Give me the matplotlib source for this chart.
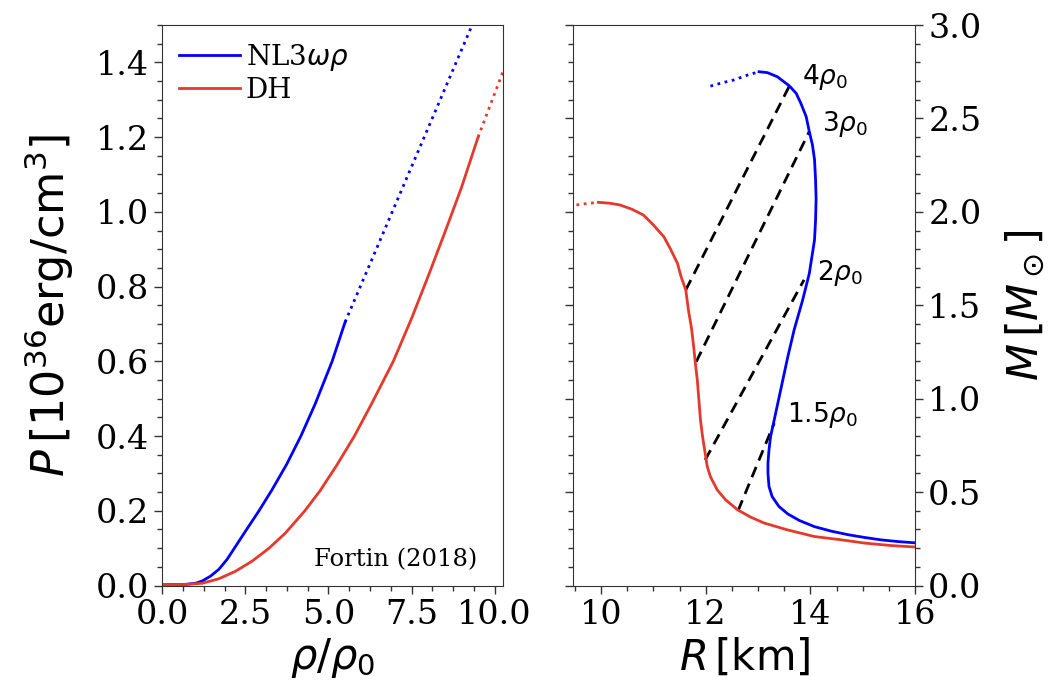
import matplotlib
matplotlib.use('Agg')
import matplotlib.pyplot as plt
from matplotlib.ticker import MultipleLocator

plt.rcParams['font.family'] = 'DejaVu Serif'
plt.rcParams['mathtext.fontset'] = 'dejavusans'

# ---- left panel: P(rho) ----
rho_nl3 = [0.0, 0.7, 1.0, 1.2, 1.45, 1.7, 1.95, 2.2, 2.5, 2.91, 3.3, 3.74, 4.17, 4.6, 5.11, 5.5]
p_nl3 = [0.002, 0.003, 0.006, 0.012, 0.025, 0.043, 0.07, 0.104, 0.145, 0.2, 0.256, 0.324, 0.4, 0.486, 0.6, 0.705]
rho_nl3_dot = [5.5, 6.0, 6.5, 7.0, 7.5, 8.0, 8.5, 9.0, 9.5]
p_nl3_dot = [0.705, 0.809, 0.913, 1.017, 1.121, 1.225, 1.329, 1.433, 1.537]

rho_dh = [0.0, 0.7, 1.2, 1.7, 2.2, 2.7, 3.2, 3.7, 4.29, 4.75, 5.25, 5.78, 6.3, 6.95,
          7.5, 8.0, 8.5, 9.0, 9.5]
p_dh = [0.002, 0.003, 0.006, 0.018, 0.038, 0.065, 0.099, 0.14, 0.2, 0.254, 0.322, 0.4, 0.487, 0.6,
        0.715, 0.828, 0.945, 1.065, 1.2]
rho_dh_dot = [9.5, 10.3]
p_dh_dot = [1.2, 1.387]

# ---- right panel: M(R) ----
r_nl3_dot = [12.09, 12.32, 12.54, 12.80, 13.02]
m_nl3_dot = [2.673, 2.691, 2.706, 2.732, 2.75]
r_nl3 = [13.02, 13.18, 13.37, 13.60, 13.73, 13.82, 13.92, 13.98, 14.04, 14.08, 14.10, 14.11, 14.10,
         14.08, 14.03, 13.98, 13.85, 13.69, 13.57, 13.44, 13.31, 13.24, 13.21, 13.19, 13.19, 13.21,
         13.27, 13.40, 13.57, 13.79, 14.08, 14.40, 14.72, 15.04, 15.36, 15.68, 16.07]
m_nl3 = [2.75, 2.745, 2.723, 2.674, 2.634, 2.58, 2.51, 2.43, 2.358, 2.28, 2.17, 2.07, 1.957,
         1.85, 1.76, 1.67, 1.525, 1.368, 1.225, 1.056, 0.887, 0.797, 0.726, 0.655, 0.60, 0.53,
         0.476, 0.423, 0.383, 0.348, 0.315, 0.291, 0.272, 0.257, 0.244, 0.235, 0.227]

r_dh_dot = [9.53, 9.75, 9.95]
m_dh_dot = [2.037, 2.045, 2.051]
r_dh = [9.95, 10.17, 10.36, 10.59, 10.81, 11.0, 11.20, 11.32, 11.46, 11.53, 11.62, 11.67, 11.73,
        11.77, 11.80, 11.84, 11.87, 11.90, 11.94, 11.97, 12.03, 12.09, 12.22, 12.38, 12.61, 12.86,
        13.12, 13.56, 14.08, 14.58, 15.04, 15.54, 16.07]
m_dh = [2.051, 2.046, 2.037, 2.014, 1.983, 1.93, 1.867, 1.805, 1.725, 1.653, 1.582, 1.475, 1.375,
        1.279, 1.198, 1.10, 0.994, 0.887, 0.797, 0.744, 0.637, 0.583, 0.512, 0.459, 0.405, 0.366,
        0.334, 0.298, 0.262, 0.245, 0.227, 0.214, 0.205]

# lines of equal central density: (R_DH, M_DH) -> (R_NL3, M_NL3)
dens_labels = [r'$4\rho_0$', r'$3\rho_0$', r'$2\rho_0$', r'$1.5\rho_0$']
dens_r = [[11.62, 13.60], [11.82, 13.98], [11.99, 13.88], [12.62, 13.31]]
dens_m = [[1.582, 2.674], [1.198, 2.43], [0.672, 1.636], [0.401, 0.869]]
label_r = [13.85, 14.22, 14.12, 13.56]
label_m = [2.72, 2.47, 1.675, 0.913]

blue = '#0000ff'
red = '#e5392b'

fig = plt.figure(figsize=(10.55, 6.89), dpi=100)
ax1 = fig.add_axes([0.1538, 0.1502, 0.3230, 0.8135])
ax2 = fig.add_axes([0.5434, 0.1502, 0.3239, 0.8135])

ax1.plot(rho_nl3, p_nl3, color=blue, lw=2, label=r'NL3$\omega\rho$')
ax1.plot(rho_nl3_dot, p_nl3_dot, color=blue, lw=2, ls=':')
ax1.plot(rho_dh, p_dh, color=red, lw=2, label='DH')
ax1.plot(rho_dh_dot, p_dh_dot, color=red, lw=2, ls=':')
ax1.set_xlim(0, 10.25)
ax1.set_ylim(0, 1.5)
ax1.xaxis.set_major_locator(MultipleLocator(2.5))
ax1.xaxis.set_minor_locator(MultipleLocator(0.625))
ax1.yaxis.set_major_locator(MultipleLocator(0.2))
ax1.yaxis.set_minor_locator(MultipleLocator(0.05))
ax1.set_xlabel(r'$\rho/\rho_0$', fontsize=30)
ax1.set_ylabel(r'$P\,[10^{36}\mathrm{erg/cm}^3]$', fontsize=32, labelpad=14)
ax1.legend(loc='upper left', frameon=False, fontsize=20, borderaxespad=0.2,
           handlelength=2.2, handletextpad=0.2, labelspacing=0.15)
ax1.text(0.925, 0.046, 'Fortin (2018)', transform=ax1.transAxes, ha='right', va='center', fontsize=17.5)

for r, m in zip(dens_r, dens_m):
    ax2.plot(r, m, color='black', lw=2, ls=(0, (4, 2.5)))
ax2.plot(r_nl3_dot, m_nl3_dot, color=blue, lw=2, ls=':')
ax2.plot(r_nl3, m_nl3, color=blue, lw=2)
ax2.plot(r_dh_dot, m_dh_dot, color=red, lw=2, ls=':')
ax2.plot(r_dh, m_dh, color=red, lw=2)
for lab, r, m in zip(dens_labels, label_r, label_m):
    ax2.text(r, m, lab, ha='left', va='center', fontsize=19)
ax2.set_xlim(9.47, 16)
ax2.set_ylim(0, 3)
ax2.xaxis.set_major_locator(MultipleLocator(2))
ax2.xaxis.set_minor_locator(MultipleLocator(0.5))
ax2.yaxis.set_major_locator(MultipleLocator(0.5))
ax2.yaxis.set_minor_locator(MultipleLocator(0.1))
ax2.yaxis.tick_right()
ax2.yaxis.set_label_position('right')
ax2.tick_params(axis='y', which='both', left=True, right=True, labelleft=False, labelright=True)
ax2.set_xlabel(r'$R\,[\mathrm{km}]$', fontsize=30)
ax2.set_ylabel(r'$M\,[M_\odot]$', fontsize=31, rotation=90, labelpad=16)

for ax in (ax1, ax2):
    ax.tick_params(which='major', length=6, width=1, labelsize=24, color='#333333')
    ax.tick_params(which='minor', length=3.5, width=1, color='#333333')
    for s in ax.spines.values():
        s.set_color('#333333')

fig.savefig('out.png', dpi=100)
